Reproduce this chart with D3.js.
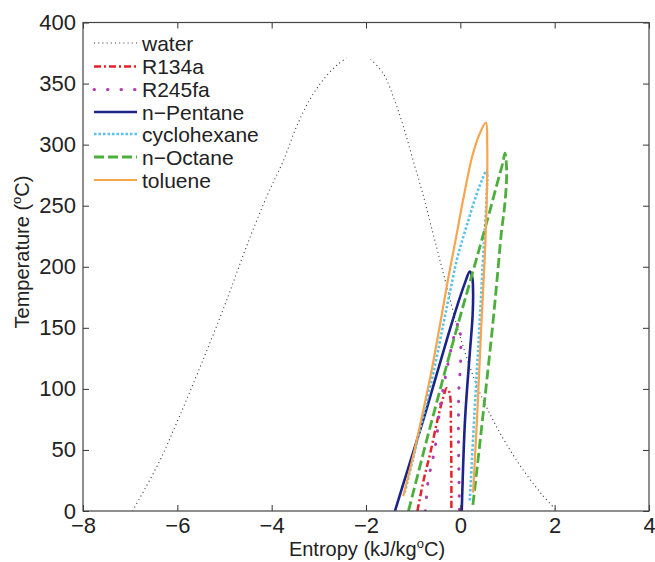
<!DOCTYPE html>
<html><head><meta charset="utf-8">
<script src="https://cdn.jsdelivr.net/npm/d3@7"></script>
<style>
body{margin:0;background:#fff}
svg{display:block}
text{font-family:Arial,"Liberation Sans",Helvetica,sans-serif;fill:#222}
</style>
</head><body>
<svg id="c" width="655" height="562"></svg>
<script>
// ---- data (entropy kJ/kg°C, temperature °C) ----
const xTicks = [-8,-6,-4,-2,0,2,4];
const yTicks = [0,50,100,150,200,250,300,350,400];

const waterLiqS = [-6.95,-6.40,-5.96,-5.41,-4.95,-4.55,-4.11,-3.75,-3.47,-3.19,-2.91,-2.62,-2.41];
const waterLiqT = [0,39,77,128,173,215,257,287,315,337,353,365,371];
const waterVapS = [-1.90,-1.63,-1.42,-1.21,-1.00,-0.79,-0.61,-0.43,-0.25,-0.06,0.15,0.40,0.70,1.02,1.38,1.72,2.05];
const waterVapT = [370,358,339,315,287,259,232,205,178,150,124,98,74,52,31,14,0];

const r134aS = [-0.91,-0.78,-0.64,-0.47,-0.37,-0.29,-0.24,-0.21,-0.20,-0.19,-0.19];
const r134aT = [0,25,47,77,92,100.5,98,92,70,35,0];

const r245faS = [-0.74,-0.68,-0.57,-0.50,-0.43,-0.33,-0.20,-0.10,-0.04,0.00,0.005,-0.03,-0.04,-0.03,-0.02];
const r245faT = [0,25,45,61,85,107,132,148,154,145,121,100,60,30,0];

const pentaneS = [-1.386,-1.09,-0.79,-0.50,-0.25,-0.05,0.10,0.20,0.25,0.27,0.26,0.20,0.10,0.03];
const pentaneT = [0,37,74,112,145,170,187,196,192,180,160,129,75,0];

const cyclohexS = [-1.18,-0.97,-0.77,-0.55,-0.35,-0.20,-0.06,0.13,0.35,0.47,0.557,0.56,0.50,0.40,0.30,0.20];
const cyclohexT = [15,48,80,117,155,183,208,233,260,272,279,260,219,148,80,8];

const octaneS = [-1.10,-0.90,-0.70,-0.48,-0.25,-0.02,0.20,0.42,0.62,0.78,0.90,0.946,0.975,0.98,0.94,0.87,0.78,0.68,0.57,0.47,0.37,0.26];
const octaneT = [0,30,60,92,125,157,187,217,245,268,285,293,285,272,250,228,190,150,110,75,40,3];

const tolueneS = [-1.21,-1.0,-0.8,-0.6,-0.42,-0.26,-0.10,0.06,0.25,0.40,0.543,0.57,0.57,0.53,0.44,0.36,0.27];
const tolueneT = [12,45,80,117,155,190,222,255,290,308,318,300,274,219,148,80,15];

const legendNames = ["water","R134a","R245fa","n\u2212Pentane","cyclohexane","n\u2212Octane","toluene"];

// ---- styles ----
const styles = [
  {stroke:"#333", width:1.1, dash:"1,3.2", cap:"butt"},
  {stroke:"#e3222a", width:2.5, dash:"7,3,2,3", cap:"butt"},
  {stroke:"#b03cb0", width:3, dash:"0.5,13", cap:"round"},
  {stroke:"#1c2587", width:2.6, dash:null, cap:"butt"},
  {stroke:"#58c3ee", width:2.6, dash:"2.5,2", cap:"butt"},
  {stroke:"#4caf3c", width:2.8, dash:"10,4", cap:"butt"},
  {stroke:"#f7a54e", width:2.2, dash:null, cap:"butt"}
];

const zip = (S,T) => S.map((s,i)=>[s,T[i]]);
const series = [
  [zip(waterLiqS,waterLiqT), zip(waterVapS,waterVapT)],
  [zip(r134aS,r134aT)],
  [zip(r245faS,r245faT)],
  [zip(pentaneS,pentaneT)],
  [zip(cyclohexS,cyclohexT)],
  [zip(octaneS,octaneT)],
  [zip(tolueneS,tolueneT)]
];

// ---- layout ----
const L=83, R=649, T=22.5, B=511;
const svg = d3.select("#c");
const x = d3.scaleLinear().domain([-8,4]).range([L,R]);
const y = d3.scaleLinear().domain([0,400]).range([B,T]);

svg.append("clipPath").attr("id","pc").append("rect")
  .attr("x",L).attr("y",T).attr("width",R-L).attr("height",B-T);

const line = d3.line().x(d=>x(d[0])).y(d=>y(d[1])).curve(d3.curveCatmullRom.alpha(0.5));

const plot = svg.append("g").attr("clip-path","url(#pc)");
series.forEach((segs,i)=>{
  const st = styles[i];
  segs.forEach(seg=>{
    plot.append("path").attr("d",line(seg)).attr("fill","none")
      .attr("stroke",st.stroke).attr("stroke-width",st.width)
      .attr("stroke-dasharray",st.dash).attr("stroke-linecap",st.cap);
  });
});

// ---- axes ----
const fmt = d => d<0 ? "\u2212"+Math.abs(d) : String(d);
const axB = svg.append("g").attr("transform",`translate(0,${B})`)
  .call(d3.axisBottom(x).tickValues(xTicks).tickSizeInner(-6).tickSizeOuter(0).tickPadding(6).tickFormat(fmt));
const axT = svg.append("g").attr("transform",`translate(0,${T})`)
  .call(d3.axisTop(x).tickValues(xTicks).tickSizeInner(-6).tickSizeOuter(0).tickFormat(""));
const axL = svg.append("g").attr("transform",`translate(${L},0)`)
  .call(d3.axisLeft(y).tickValues(yTicks).tickSizeInner(-6).tickSizeOuter(0).tickPadding(7).tickFormat(d=>d));
const axR = svg.append("g").attr("transform",`translate(${R},0)`)
  .call(d3.axisRight(y).tickValues(yTicks).tickSizeInner(-6).tickSizeOuter(0).tickFormat(""));
[axB,axT,axL,axR].forEach(a=>{
  a.select(".domain").remove();
  a.selectAll(".tick line").attr("stroke","#333").attr("stroke-width",1);
  a.selectAll("text").attr("font-size",22).attr("fill","#222")
    .attr("font-family","Arial, 'Liberation Sans', sans-serif");
});
svg.append("rect").attr("x",L).attr("y",T).attr("width",R-L).attr("height",B-T)
  .attr("fill","none").attr("stroke","#444").attr("stroke-width",1.2);

// ---- labels ----
const xl = svg.append("text").attr("x",(L+R)/2+1).attr("y",556).attr("text-anchor","middle").attr("font-size",20);
xl.append("tspan").text("Entropy (kJ/kg");
xl.append("tspan").attr("font-size",13).attr("dy",-8).text("o");
xl.append("tspan").attr("dy",8).text("C)");

const yl = svg.append("text").attr("transform",`translate(29,252) rotate(-90)`)
  .attr("text-anchor","middle").attr("font-size",20);
yl.append("tspan").text("Temperature (");
yl.append("tspan").attr("font-size",13).attr("dy",-8).text("o");
yl.append("tspan").attr("dy",8).text("C)");

// ---- legend ----
const legY = [43,66.5,89.5,112,134,157,180];
const leg = svg.append("g");
legendNames.forEach((name,i)=>{
  const st = styles[i];
  leg.append("line").attr("x1",94).attr("x2",137).attr("y1",legY[i]).attr("y2",legY[i])
    .attr("stroke",st.stroke).attr("stroke-width",st.width)
    .attr("stroke-dasharray",st.dash).attr("stroke-linecap",st.cap);
  leg.append("text").attr("x",142).attr("y",legY[i]).attr("dy","0.36em")
    .attr("font-size",21).text(name);
});
</script>
</body></html>
